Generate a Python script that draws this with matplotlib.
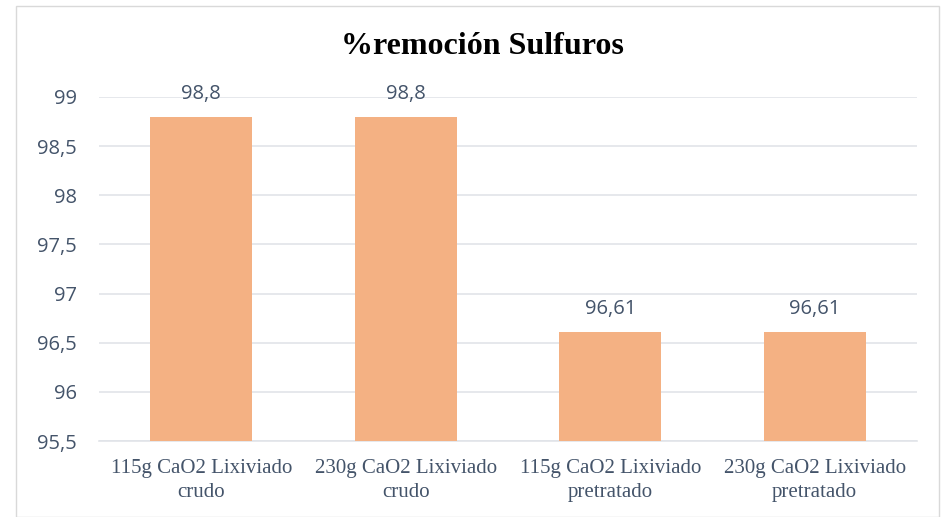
import matplotlib
matplotlib.use("Agg")
import matplotlib.pyplot as plt
from matplotlib.patches import Rectangle
from matplotlib.ticker import FixedLocator, FuncFormatter

categories = ["115g CaO2 Lixiviado\ncrudo", "230g CaO2 Lixiviado\ncrudo",
              "115g CaO2 Lixiviado\npretratado", "230g CaO2 Lixiviado\npretratado"]
values = [98.8, 98.8, 96.61, 96.61]
value_labels = ["98,8", "98,8", "96,61", "96,61"]
yticks = [95.5, 96, 96.5, 97, 97.5, 98, 98.5, 99]
title = "%remoción Sulfuros"

W, H = 942, 517
fig = plt.figure(figsize=(W / 100, H / 100), dpi=100)
fig.patch.set_facecolor("white")
fig.patches.append(Rectangle((16 / W, 0), (939 - 16) / W, (H - 6) / H, transform=fig.transFigure,
                             fill=False, edgecolor="#D9D9D9", linewidth=1.0))

left, right, top, bottom = 99, 917, 97, 441
ax = fig.add_axes([left / W, 1 - bottom / H, (right - left) / W, (bottom - top) / H])

text_color = "#44546A"
grid_color = "#E1E4E9"

x = list(range(len(categories)))
ax.bar(x, [v - 95.5 for v in values], bottom=95.5, width=0.5, color="#F4B183", zorder=3)
ax.set_xlim(-0.5, len(categories) - 0.5)
ax.set_ylim(95.5, 99)

ax.yaxis.set_major_locator(FixedLocator(yticks))
ax.yaxis.set_major_formatter(FuncFormatter(lambda v, p: ("%g" % v).replace(".", ",")))
ax.grid(axis="y", color=grid_color, linewidth=1.2, zorder=0)
for s in ["top", "right", "left"]:
    ax.spines[s].set_visible(False)
ax.spines["bottom"].set_color(grid_color)
ax.spines["bottom"].set_linewidth(1.2)
ax.tick_params(axis="both", length=0, colors=text_color)
for lbl in ax.get_yticklabels():
    lbl.set_fontfamily("Open Sans")
    lbl.set_fontsize(14.5)
    lbl.set_color(text_color)
ax.tick_params(axis="y", pad=16)

ax.set_xticks(x)
ax.set_xticklabels(categories, fontfamily="Liberation Serif", fontsize=15, color=text_color,
                   linespacing=1.36)
ax.tick_params(axis="x", pad=13)

for xi, v, t in zip(x, values, value_labels):
    ax.annotate(t, (xi, v), xytext=(0, 9), textcoords="offset points", ha="center", va="bottom",
                fontfamily="Open Sans", fontsize=14.5, color=text_color)

fig.text(482 / W, 1 - 47 / H, title, ha="center", va="center",
         fontfamily="Liberation Serif", fontweight="bold", fontsize=23, color="black")

fig.savefig("out.png", dpi=100)
